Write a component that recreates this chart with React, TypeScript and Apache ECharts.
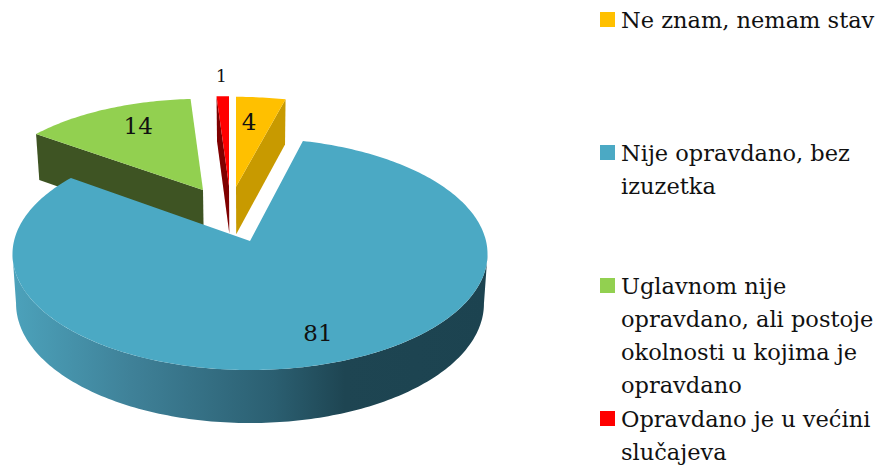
import React, { useEffect, useRef } from "react";
import * as echarts from "echarts";

const categories = [
  "Ne znam, nemam stav",
  "Nije opravdano, bez izuzetka",
  "Uglavnom nije opravdano, ali postoje okolnosti u kojima je opravdano",
  "Opravdano je u većini slučajeva",
];
const values = [4, 81, 14, 1];
const legendLines = [
  "Ne znam, nemam stav",
  "Nije opravdano, bez\nizuzetka",
  "Uglavnom nije\nopravdano, ali postoje\nokolnosti u kojima je\nopravdano",
  "Opravdano je u većini\nslučajeva",
];
const topColors = ["#FFC000", "#4BA9C4", "#92D050", "#FF0000"];
const wallColors = ["#C89A00", "#1E4552", "#3E5423", "#7F0000"];
const legendTops = [12, 145, 278, 411];
const FONT = '"DejaVu Serif", serif';

type Geo = {
  ax: number; ay: number; A: number; B: number; d0: number; d1: number;
  wall: "start" | "end" | "rim"; labelFrac: number; labelDx: number; labelSize: number; z: number;
};
const geometry: Geo[] = [
  { ax: 236, ay: 186.7, A: 100, B: 221, d0: 47.5, d1: 2.5, wall: "end", labelFrac: 0.7, labelDx: -5, labelSize: 23, z: 1 },
  { ax: 250, ay: 241, A: 114.5, B: 236, d0: 49, d1: 4, wall: "rim", labelFrac: 0.78, labelDx: 0, labelSize: 23, z: 4 },
  { ax: 203, ay: 190, A: 101.5, B: 220, d0: 47.5, d1: 2.5, wall: "start", labelFrac: 0.78, labelDx: 12, labelSize: 23, z: 2 },
  { ax: 229, ay: 186, A: 100, B: 221, d0: 47.5, d1: 2.5, wall: "start", labelFrac: 1.25, labelDx: 0, labelSize: 17, z: 3 },
];
const K = -0.1127;
const BOTTOM_SCALE = 0.985;
const CX = 250;
const total = values.reduce((s, v) => s + v, 0);

function sliceAngles(i: number): [number, number] {
  let before = 0;
  for (let j = 0; j < i; j++) before += values[j];
  return [(before / total) * 360, ((before + values[i]) / total) * 360];
}
function project(g: Geo, deg: number, f = 1): [number, number] {
  const t = (deg * Math.PI) / 180;
  const u = Math.sin(t) * f;
  const v = -Math.cos(t) * f;
  const w = 1 + K * v;
  return [g.ax + (g.B * u) / w, g.ay + (g.A * v) / w];
}
function drop(g: Geo, deg: number, f = 1): [number, number] {
  const [x, y] = project(g, deg, f);
  const v = -Math.cos((deg * Math.PI) / 180) * f;
  return [CX + (x - CX) * BOTTOM_SCALE, y + g.d0 + g.d1 * v];
}
function arcDegs(a: number, b: number): number[] {
  const out: number[] = [];
  const n = Math.max(2, Math.ceil(Math.abs(b - a)));
  for (let i = 0; i <= n; i++) out.push(a + ((b - a) * i) / n);
  return out;
}

const renderItem = (params: any, api: any) => {
  const i = params.dataIndex;
  const g = geometry[i];
  const [a0, a1] = sliceAngles(i);
  const children: any[] = [];
  const apexTop = project(g, 0, 0);
  const apexBot = drop(g, 0, 0);
  if (g.wall === "rim") {
    const degs = arcDegs(96.5, 263.5);
    const pts = degs.map((d) => project(g, d)).concat(degs.slice().reverse().map((d) => drop(g, d)));
    children.push({
      type: "polygon",
      z2: g.z * 10,
      shape: { points: pts },
      style: {
        fill: new echarts.graphic.LinearGradient(0, 0, 1, 0, [
          { offset: 0, color: "#4CA2BB" },
          { offset: 0.25, color: "#3F8198" },
          { offset: 0.55, color: "#2B5F71" },
          { offset: 0.7, color: wallColors[i] },
          { offset: 1, color: "#1C4350" },
        ]),
      },
    });
  } else {
    const wa = g.wall === "start" ? a0 : a1;
    children.push({
      type: "polygon",
      z2: g.z * 10,
      shape: { points: [apexTop, project(g, wa), drop(g, wa), apexBot] },
      style: { fill: wallColors[i] },
    });
  }
  children.push({
    type: "polygon",
    z2: g.z * 10 + 1,
    shape: { points: [apexTop, ...arcDegs(a0, a1).map((d) => project(g, d))] },
    style: { fill: topColors[i] },
  });
  const mid = (a0 + a1) / 2;
  const [lx, ly] = project(g, mid, g.labelFrac);
  children.push({
    type: "text",
    z2: 100,
    style: {
      text: String(api.value(0)),
      x: lx + g.labelDx,
      y: ly,
      align: "center",
      verticalAlign: "middle",
      font: `${g.labelSize}px ${FONT}`,
      fill: "#111111",
    },
  });
  return { type: "group", children };
};

export default function App() {
  const ref = useRef<HTMLDivElement>(null);
  useEffect(() => {
    if (!ref.current) return;
    const chart = echarts.init(ref.current, undefined, { renderer: "svg" });
    chart.setOption({
      animation: false,
      backgroundColor: "#ffffff",
      series: [
        {
          type: "custom",
          coordinateSystem: "none",
          renderItem,
          data: values.map((v, i) => ({ name: categories[i], value: [v] })),
          silent: true,
        },
      ],
      graphic: legendLines.flatMap((line, i) => [
        {
          type: "rect",
          left: 600,
          top: legendTops[i],
          shape: { width: 15, height: 15 },
          style: { fill: topColors[i] },
        },
        {
          type: "text",
          left: 621,
          top: legendTops[i] - 9,
          style: {
            text: line,
            font: `22.5px ${FONT}`,
            lineHeight: 33,
            fill: "#111111",
          },
        },
      ]),
    });
    return () => chart.dispose();
  }, []);
  return (
    <div
      ref={ref}
      style={{ position: "absolute", left: 0, top: 0, width: 880, height: 466 }}
    />
  );
}
